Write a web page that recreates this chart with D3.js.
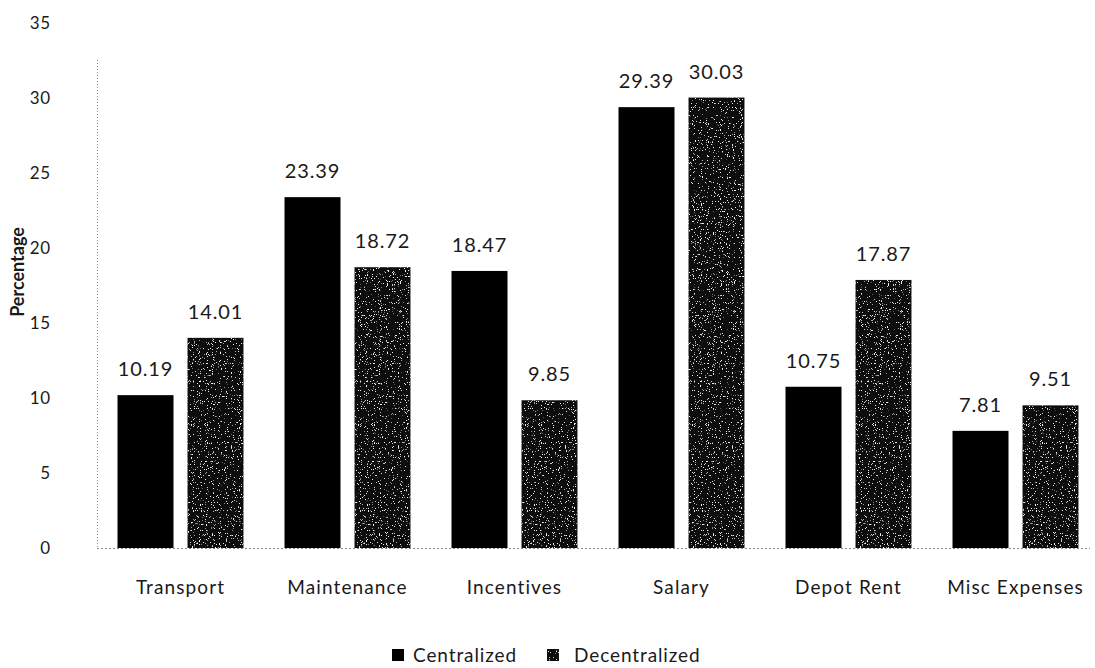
<!DOCTYPE html>
<html>
<head>
<meta charset="utf-8">
<script src="https://cdn.jsdelivr.net/npm/d3@7"></script>
<style>
  html, body { margin: 0; padding: 0; background: #fff; }
  svg { display: block; }
  text { font-family: Lato, "Open Sans", sans-serif; fill: #1a1a1a; }
</style>
</head>
<body>
<svg id="chart" width="1095" height="668"></svg>
<script>
// Cost share by category
const categories = ["Transport", "Maintenance", "Incentives", "Salary", "Depot Rent", "Misc Expenses"];
const seriesNames = ["Centralized", "Decentralized"];
const centralized = [10.19, 23.39, 18.47, 29.39, 10.75, 7.81];
const decentralized = [14.01, 18.72, 9.85, 30.03, 17.87, 9.51];
const yTicks = [0, 5, 10, 15, 20, 25, 30, 35];

const svg = d3.select("#chart");
const plot = { left: 97, right: 1099, top: 23, bottom: 548 };

// grainy fill for the second series
const defs = svg.append("defs");
const f = defs.append("filter").attr("id", "grain")
  .attr("x", 0).attr("y", 0).attr("width", 1).attr("height", 1);
f.append("feTurbulence").attr("type", "fractalNoise")
  .attr("baseFrequency", 0.85).attr("numOctaves", 2).attr("seed", 4).attr("result", "noise");
f.append("feColorMatrix").attr("in", "noise").attr("type", "matrix")
  .attr("values", "0 0 0 0 0.85  0 0 0 0 0.85  0 0 0 0 0.85  0 0 0 -16 5.6").attr("result", "specks");
f.append("feComposite").attr("in", "specks").attr("in2", "SourceGraphic").attr("operator", "in").attr("result", "clipped");
const m = f.append("feMerge");
m.append("feMergeNode").attr("in", "SourceGraphic");
m.append("feMergeNode").attr("in", "clipped");

const x0 = d3.scaleBand().domain(categories).range([plot.left, plot.right]).paddingInner(0).paddingOuter(0);
const x1 = d3.scaleBand().domain(seriesNames).range([0, x0.bandwidth()]).paddingInner(0.2).paddingOuter(0.293);
const y = d3.scaleLinear().domain([0, 35]).range([plot.bottom, plot.top]);

// dotted axis lines
svg.append("line")
  .attr("x1", plot.left + 0.5).attr("x2", plot.left + 0.5)
  .attr("y1", 60).attr("y2", plot.bottom)
  .attr("stroke", "#8a8a8a").attr("stroke-width", 1).attr("stroke-dasharray", "1,2");
svg.append("line")
  .attr("x1", plot.left).attr("x2", 1090)
  .attr("y1", plot.bottom + 0.5).attr("y2", plot.bottom + 0.5)
  .attr("stroke", "#8a8a8a").attr("stroke-width", 1).attr("stroke-dasharray", "2,2");

// y tick labels
const yAxis = d3.axisLeft(y).tickValues(yTicks).tickSize(0).tickPadding(0);
const yg = svg.append("g").attr("transform", `translate(51,0)`).call(yAxis);
yg.select(".domain").remove();
yg.selectAll("text").attr("font-size", 17).attr("font-family", "Lato, sans-serif")
  .attr("fill", "#1a1a1a").attr("letter-spacing", "0.8px");

// y axis title
svg.append("text")
  .attr("transform", "translate(24,272) rotate(-90)")
  .attr("text-anchor", "middle")
  .attr("font-size", 18).attr("font-weight", "bold")
  .text("Percentage");

// category labels
const xAxis = d3.axisBottom(x0).tickSize(0).tickPadding(0);
const xg = svg.append("g").attr("transform", `translate(0,${plot.bottom + 32})`).call(xAxis);
xg.select(".domain").remove();
xg.selectAll("text").attr("font-size", 19).attr("font-family", "Lato, sans-serif")
  .attr("fill", "#1a1a1a").attr("letter-spacing", "1.1px").attr("dy", "0.71em");

// bars
const rows = categories.map((c, i) => ({ cat: c, vals: [
  { s: "Centralized", v: centralized[i] },
  { s: "Decentralized", v: decentralized[i] }
]}));
const fills = { "Centralized": "#000", "Decentralized": "#111" };

const g = svg.selectAll(".grp").data(rows).enter().append("g")
  .attr("transform", d => `translate(${x0(d.cat)},0)`);
g.selectAll("rect").data(d => d.vals).enter().append("rect")
  .attr("x", d => x1(d.s))
  .attr("width", x1.bandwidth())
  .attr("y", d => y(d.v))
  .attr("height", d => y(0) - y(d.v))
  .attr("fill", d => fills[d.s])
  .attr("filter", d => d.s === "Decentralized" ? "url(#grain)" : null);

// value labels
g.selectAll(".val").data(d => d.vals).enter().append("text")
  .attr("x", d => x1(d.s) + x1.bandwidth() / 2)
  .attr("y", d => y(d.v) - 19)
  .attr("text-anchor", "middle")
  .attr("font-size", 20).attr("letter-spacing", "0.9px")
  .text(d => d.v.toFixed(2));

// legend
const legend = svg.append("g").attr("transform", "translate(392,648)");
const items = [
  { s: "Centralized", x: 0, tx: 21 },
  { s: "Decentralized", x: 155, tx: 27 }
];
const li = legend.selectAll("g").data(items).enter().append("g")
  .attr("transform", d => `translate(${d.x},0)`);
li.append("rect").attr("width", 12).attr("height", 12).attr("y", 1)
  .attr("fill", d => fills[d.s])
  .attr("filter", d => d.s === "Decentralized" ? "url(#grain)" : null);
li.append("text").attr("x", d => d.tx).attr("y", 14)
  .attr("font-size", 19).attr("letter-spacing", "0.9px")
  .text(d => d.s);
</script>
</body>
</html>
